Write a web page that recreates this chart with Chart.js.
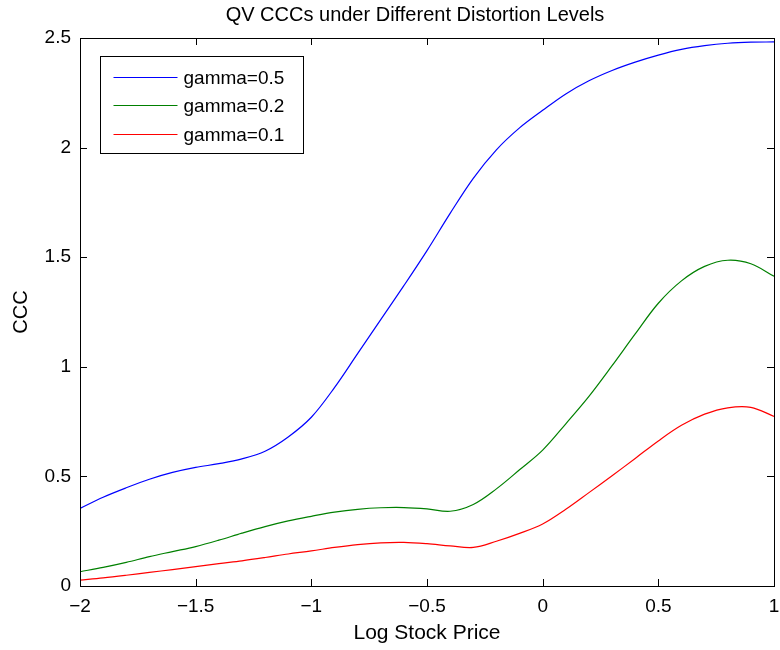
<!DOCTYPE html>
<html>
<head>
<meta charset="utf-8">
<title>QV CCCs</title>
<script src="https://cdn.jsdelivr.net/npm/chart.js@4/dist/chart.umd.min.js"></script>
<style>
  html, body { margin: 0; padding: 0; background: #fff; }
  #wrap { width: 780px; height: 650px; }
</style>
</head>
<body>
<div id="wrap"><canvas id="chartCCC"></canvas></div>
<script>
// datos
const logPrice = [-2.0, -1.9, -1.8, -1.7, -1.6, -1.5, -1.4, -1.3, -1.2, -1.1, -1.0,
                  -0.9, -0.8, -0.7, -0.6, -0.5, -0.4, -0.3, -0.2, -0.1, 0.0,
                  0.1, 0.2, 0.3, 0.4, 0.5, 0.6, 0.7, 0.8, 0.9, 1.0];
const gamma05 = [0.354, 0.405, 0.448, 0.487, 0.518, 0.541, 0.558, 0.580, 0.615, 0.680, 0.770,
                 0.905, 1.060, 1.215, 1.370, 1.530, 1.700, 1.860, 1.990, 2.090, 2.170,
                 2.245, 2.305, 2.352, 2.390, 2.422, 2.448, 2.465, 2.476, 2.481, 2.482];
const gamma02 = [0.065, 0.085, 0.108, 0.134, 0.157, 0.180, 0.209, 0.241, 0.271, 0.297, 0.318,
                 0.337, 0.350, 0.357, 0.358, 0.352, 0.341, 0.372, 0.443, 0.530, 0.620,
                 0.740, 0.865, 1.005, 1.150, 1.290, 1.392, 1.458, 1.486, 1.470, 1.413];
const gamma01 = [0.027, 0.037, 0.049, 0.062, 0.075, 0.088, 0.102, 0.115, 0.130, 0.146, 0.160,
                 0.176, 0.189, 0.197, 0.199, 0.193, 0.183, 0.176, 0.204, 0.240, 0.283,
                 0.350, 0.426, 0.503, 0.582, 0.662, 0.733, 0.784, 0.813, 0.815, 0.774];
const seriesNames = ['gamma=0.5', 'gamma=0.2', 'gamma=0.1'];
const seriesColors = ['#0000ff', '#008000', '#ff0000'];
const xTicks = [-2, -1.5, -1, -0.5, 0, 0.5, 1];
const yTicks = [0, 0.5, 1, 1.5, 2, 2.5];
const chartTitle = 'QV CCCs under Different Distortion Levels';

const FONT = "'Liberation Sans', Arial, Helvetica, sans-serif";

function toPoints(ys) {
    return logPrice.map((x, i) => ({ x: x, y: ys[i] }));
}
function fmtTick(v) {
    return v < 0 ? '\u2212' + Math.abs(v) : String(v);
}

// caja de ejes estilo matlab con marcas hacia adentro + leyenda + titulo
const matlabFrame = {
    id: 'matlabFrame',
    afterDatasetsDraw(chart) {
        const ctx = chart.ctx;
        const a = chart.chartArea;
        const sx = chart.scales.x, sy = chart.scales.y;
        const len = 7;
        ctx.save();
        ctx.strokeStyle = '#000';
        ctx.lineWidth = 1;
        ctx.beginPath();
        xTicks.forEach(t => {
            const px = Math.round(sx.getPixelForValue(t)) + 0.5;
            ctx.moveTo(px, a.bottom); ctx.lineTo(px, a.bottom - len);
            ctx.moveTo(px, a.top); ctx.lineTo(px, a.top + len);
        });
        yTicks.forEach(t => {
            const py = Math.round(sy.getPixelForValue(t)) + 0.5;
            ctx.moveTo(a.left, py); ctx.lineTo(a.left + len, py);
            ctx.moveTo(a.right, py); ctx.lineTo(a.right - len, py);
        });
        ctx.stroke();
        ctx.strokeRect(Math.round(a.left) + 0.5, Math.round(a.top) + 0.5,
                       Math.round(a.right - a.left), Math.round(a.bottom - a.top));

        // titulo
        ctx.fillStyle = '#000';
        ctx.font = '20px ' + FONT;
        ctx.textAlign = 'center';
        ctx.textBaseline = 'middle';
        ctx.fillText(chartTitle, 415, 15);

        // leyenda
        const lx = a.left + 20.5, ly = a.top + 18.5, lw = 203, lh = 97;
        ctx.fillStyle = '#fff';
        ctx.fillRect(lx, ly, lw, lh);
        ctx.strokeRect(lx, ly, lw, lh);
        ctx.font = '19px ' + FONT;
        ctx.textBaseline = 'middle';
        ctx.textAlign = 'left';
        chart.data.datasets.forEach((ds, i) => {
            const rowY = Math.round(ly + 20 + i * 28.5) + 0.5;
            ctx.strokeStyle = ds.borderColor;
            ctx.beginPath();
            ctx.moveTo(lx + 13, rowY);
            ctx.lineTo(lx + 77, rowY);
            ctx.stroke();
            ctx.fillStyle = '#000';
            ctx.fillText(ds.label, lx + 83, rowY + 1);
        });
        ctx.restore();
    }
};

const ctxCCC = document.getElementById('chartCCC').getContext('2d');
const chartCCC = new Chart(ctxCCC, {
    type: 'line',
    data: {
        datasets: [gamma05, gamma02, gamma01].map((ys, i) => ({
            label: seriesNames[i],
            data: toPoints(ys),
            borderColor: seriesColors[i],
            borderWidth: 1.2,
            pointRadius: 0,
            fill: false,
            tension: 0.35
        }))
    },
    options: {
        responsive: true,
        maintainAspectRatio: false,
        animation: false,
        layout: { padding: { top: 38, right: 6, left: 0, bottom: 0 } },
        plugins: {
            legend: { display: false },
            tooltip: { enabled: false },
            title: { display: false }
        },
        scales: {
            x: {
                type: 'linear',
                min: -2, max: 1,
                afterBuildTicks: s => { s.ticks = xTicks.map(v => ({ value: v })); },
                afterFit: s => { s.height = 64; s.paddingLeft = 0; s.paddingRight = 0; },
                grid: { display: false, drawTicks: false },
                border: { display: false },
                ticks: { color: '#000', padding: 9, font: { family: FONT, size: 19 }, callback: fmtTick, maxRotation: 0 },
                title: { display: true, text: 'Log Stock Price', color: '#000', font: { family: FONT, size: 21 }, padding: { top: 0, bottom: 4 } }
            },
            y: {
                type: 'linear',
                min: 0, max: 2.5,
                afterBuildTicks: s => { s.ticks = yTicks.map(v => ({ value: v })); },
                afterFit: s => { s.width = 80; s.paddingTop = 0; s.paddingBottom = 0; },
                grid: { display: false, drawTicks: false },
                border: { display: false },
                ticks: { color: '#000', padding: 9, font: { family: FONT, size: 19 }, callback: fmtTick },
                title: { display: true, text: 'CCC', color: '#000', font: { family: FONT, size: 20 }, padding: { top: 9, bottom: 4 } }
            }
        }
    },
    plugins: [matlabFrame]
});
</script>
</body>
</html>
